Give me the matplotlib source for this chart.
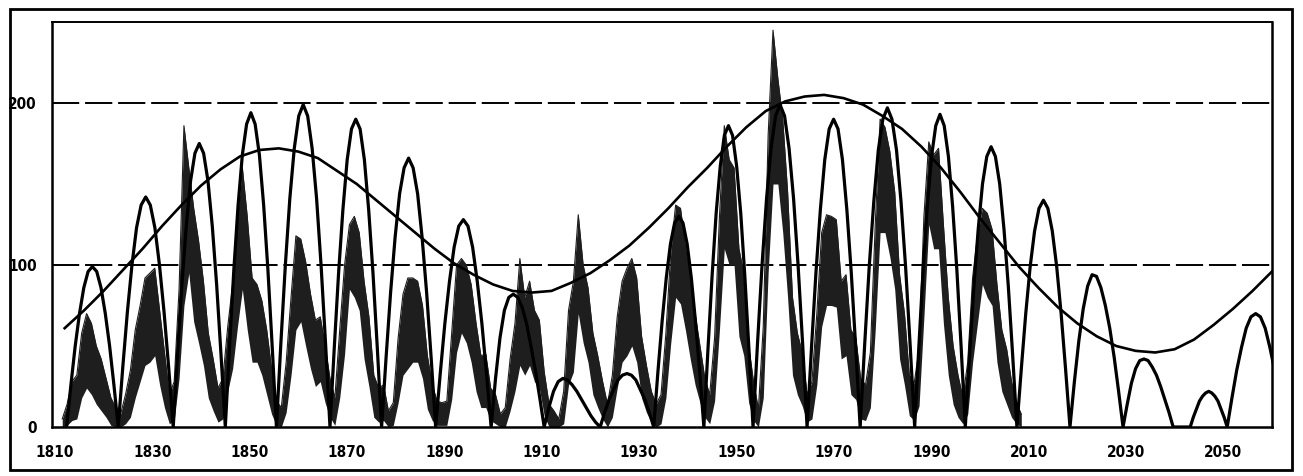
import numpy as np
import matplotlib
matplotlib.use("Agg")
import matplotlib.pyplot as plt
from matplotlib.patches import Rectangle
from matplotlib import font_manager

# ---------------- data ----------------
x_ticks = [1810, 1830, 1850, 1870, 1890, 1910, 1930, 1950, 1970, 1990, 2010, 2030, 2050]
y_ticks = [0, 100, 200]

# long-period envelope curve (year, value)
trend_years = [1812, 1816, 1820, 1824, 1828, 1832, 1836, 1840, 1844, 1848, 1852, 1856,
               1860, 1864, 1868, 1872, 1876, 1880, 1884, 1888, 1892, 1896, 1900, 1904,
               1908, 1912, 1916, 1920, 1924, 1928, 1932, 1936, 1940, 1944, 1948, 1952,
               1956, 1960, 1964, 1968, 1972, 1976, 1980, 1984, 1988, 1992, 1996, 2000,
               2004, 2008, 2012, 2016, 2020, 2024, 2028, 2032, 2036, 2040, 2044, 2048,
               2052, 2056, 2060]
trend_values = [61, 72, 84, 97, 110, 124, 137, 149, 159, 167, 171, 172,
                170, 166, 158, 150, 140, 130, 120, 110, 101, 94, 88, 84,
                83, 84, 89, 95, 103, 112, 123, 135, 148, 160, 173, 185,
                195, 201, 204, 205, 203, 199, 192, 184, 173, 160, 145, 129,
                114, 99, 86, 74, 64, 56, 50, 47, 46, 48, 54, 63,
                73, 84, 96]

# model cycles: start / end year of each arch and its sampled values
arch_start = [1812.4, 1823.0, 1834.3, 1845.0, 1855.5, 1866.5, 1877.1, 1888.2, 1899.6,
              1910.5, 1922.0, 1933.0, 1943.3, 1953.4, 1964.5, 1975.4, 1986.6, 1997.0,
              2007.6, 2018.5, 2029.4, 2043.2, 2050.8]
arch_end = [1823.0, 1834.3, 1845.0, 1855.5, 1866.5, 1877.1, 1888.2, 1899.6, 1910.5,
            1922.0, 1933.0, 1943.3, 1953.4, 1964.5, 1975.4, 1986.6, 1997.0, 2007.6,
            2018.5, 2029.4, 2039.7, 2050.8, 2062.5]
arch_values = [
    [0, 26, 50, 70, 86, 96, 99, 96, 86, 70, 50, 26, 0],
    [0, 37, 71, 100, 123, 137, 142, 137, 123, 100, 71, 37, 0],
    [0, 45, 88, 124, 152, 169, 175, 169, 152, 124, 88, 45, 0],
    [0, 50, 97, 137, 168, 187, 194, 187, 168, 137, 97, 50, 0],
    [0, 52, 100, 141, 172, 192, 199, 192, 172, 141, 100, 52, 0],
    [0, 49, 95, 134, 165, 184, 190, 184, 165, 134, 95, 49, 0],
    [0, 43, 83, 117, 144, 160, 166, 160, 144, 117, 83, 43, 0],
    [0, 33, 64, 90, 111, 124, 128, 124, 111, 90, 64, 33, 0],
    [0, 30, 55, 72, 80, 82, 80, 74, 64, 50, 35, 18, 0],
    [0, 12, 22, 28, 30, 29, 26, 22, 17, 12, 7, 3, 0],
    [0, 9, 17, 23, 29, 32, 33, 32, 29, 23, 17, 9, 0],
    [0, 34, 65, 92, 113, 126, 130, 126, 113, 92, 65, 34, 0],
    [0, 48, 93, 132, 161, 180, 186, 180, 161, 132, 93, 48, 0],
    [0, 52, 100, 141, 172, 192, 199, 192, 172, 141, 100, 52, 0],
    [0, 49, 95, 134, 165, 184, 190, 184, 165, 134, 95, 49, 0],
    [0, 51, 99, 139, 171, 190, 197, 190, 171, 139, 99, 51, 0],
    [0, 50, 97, 136, 167, 186, 193, 186, 167, 136, 97, 50, 0],
    [0, 45, 87, 122, 150, 167, 173, 167, 150, 122, 87, 45, 0],
    [0, 36, 70, 99, 121, 135, 140, 135, 121, 99, 70, 36, 0],
    [0, 28, 53, 73, 87, 94, 93, 86, 75, 61, 43, 22, 0],
    [0, 14, 27, 36, 41, 42, 41, 37, 32, 25, 17, 9, 0],
    [0, 6, 11, 16, 19, 21, 22, 21, 19, 16, 11, 6, 0],
    [0, 18, 35, 49, 61, 68, 70, 68, 61, 49, 35, 18, 0],
]

# observed sunspot numbers: yearly envelope of the monthly values
ssn_years = list(range(1811, 2009))
ssn_high = [5, 14, 28, 32, 58, 70, 64, 50, 42, 30,
            18, 12, 8, 20, 35, 60, 75, 92, 95, 98,
            72, 46, 20, 28, 85, 186, 160, 135, 115, 90,
            58, 42, 24, 30, 62, 88, 130, 160, 130, 92,
            88, 78, 60, 36, 16, 12, 40, 80, 118, 116,
            102, 82, 66, 68, 50, 30, 18, 60, 100, 125,
            130, 120, 90, 68, 32, 24, 26, 10, 15, 55,
            82, 92, 92, 90, 75, 44, 26, 16, 15, 16,
            58, 100, 104, 100, 88, 64, 44, 45, 24, 20,
            8, 12, 42, 64, 104, 80, 90, 72, 66, 34,
            14, 10, 5, 22, 72, 90, 131, 100, 86, 58,
            44, 28, 14, 32, 68, 90, 98, 104, 92, 56,
            38, 22, 14, 20, 58, 108, 137, 135, 112, 92,
            70, 50, 30, 20, 55, 130, 186, 165, 160, 110,
            95, 50, 28, 11, 62, 180, 245, 215, 190, 145,
            80, 58, 46, 20, 28, 70, 120, 131, 130, 128,
            90, 94, 60, 55, 30, 26, 46, 125, 190, 185,
            170, 145, 94, 70, 32, 27, 48, 130, 176, 168,
            172, 125, 80, 50, 32, 18, 40, 92, 118, 135,
            132, 122, 88, 60, 48, 28, 15, 8]
ssn_low = [0, 1, 4, 5, 18, 24, 20, 14, 10, 6,
           1, 0, 0, 2, 6, 18, 28, 38, 40, 44,
           26, 12, 2, 4, 30, 75, 95, 65, 52, 38,
           18, 10, 3, 5, 22, 36, 62, 85, 60, 40,
           40, 32, 20, 8, 1, 0, 9, 32, 60, 65,
           50, 36, 25, 28, 15, 6, 1, 18, 45, 85,
           80, 72, 42, 25, 6, 3, 4, 0, 1, 15,
           32, 36, 40, 40, 30, 11, 4, 1, 1, 1,
           17, 46, 58, 52, 40, 22, 12, 12, 4, 2,
           0, 0, 10, 22, 38, 32, 38, 28, 24, 7,
           0, 0, 0, 2, 26, 34, 70, 52, 40, 20,
           12, 5, 0, 6, 24, 40, 44, 50, 40, 18,
           9, 3, 0, 2, 18, 52, 80, 76, 60, 42,
           26, 15, 6, 2, 16, 60, 110, 100, 100, 56,
           44, 15, 4, 0, 18, 95, 150, 150, 120, 80,
           32, 20, 13, 3, 5, 26, 62, 75, 75, 74,
           42, 44, 20, 17, 5, 4, 12, 60, 120, 120,
           105, 85, 42, 26, 7, 4, 13, 68, 125, 110,
           110, 64, 32, 14, 6, 2, 8, 40, 64, 88,
           80, 75, 40, 22, 14, 6, 2, 0]

# ---------------- figure ----------------
W, H = 1303, 476
fig = plt.figure(figsize=(W / 100, H / 100), dpi=100)
fig.patch.set_facecolor("white")
ax = fig.add_axes([52 / W, 1 - 427 / H, (1272 - 52) / W, (427 - 22) / H])

# outer frame around the whole chart
fig.add_artist(Rectangle((10 / W, 1 - 470 / H), (1292 - 10) / W, (470 - 9) / H,
                         transform=fig.transFigure, fill=False, lw=2.0,
                         edgecolor="black"))

# gridlines
for v in [100, 200]:
    ax.axhline(v, color="black", lw=1.4, ls=(0, (14, 3)), zorder=1)

# observed (noisy) sunspot data
sx = np.array(ssn_years) + 0.5
ax.fill_between(sx, ssn_low, ssn_high, color="#1e1e1e", lw=0, zorder=2)
ax.plot(sx, ssn_high, color="#1e1e1e", lw=0.8, zorder=2)

# model arches
mx, my = [], []
for a, b, vals in zip(arch_start, arch_end, arch_values):
    mx.extend(np.linspace(a, b, len(vals)))
    my.extend(vals)
ax.plot(mx, my, color="black", lw=2.3, solid_joinstyle="round", zorder=3)

# long-period trend
ax.plot(trend_years, trend_values, color="black", lw=1.9, zorder=4)

ax.set_xlim(1809.4, 2060)
ax.set_ylim(0, 250)
ax.set_xticks(x_ticks)
ax.set_yticks(y_ticks)
fp = font_manager.FontProperties(family="DejaVu Sans", weight="bold",
                                 stretch="condensed", size=11)
ax.set_xticklabels([str(t) for t in x_ticks])
ax.set_yticklabels([str(t) for t in y_ticks])
for lab in ax.get_xticklabels() + ax.get_yticklabels():
    lab.set_fontproperties(fp)
ax.tick_params(axis="x", length=0, pad=13)
ax.tick_params(axis="y", length=0, pad=11)
for side in ["left", "right", "bottom"]:
    ax.spines[side].set_linewidth(1.8)
ax.spines["top"].set_linewidth(1.4)

fig.savefig("out.png", dpi=100, facecolor="white")
